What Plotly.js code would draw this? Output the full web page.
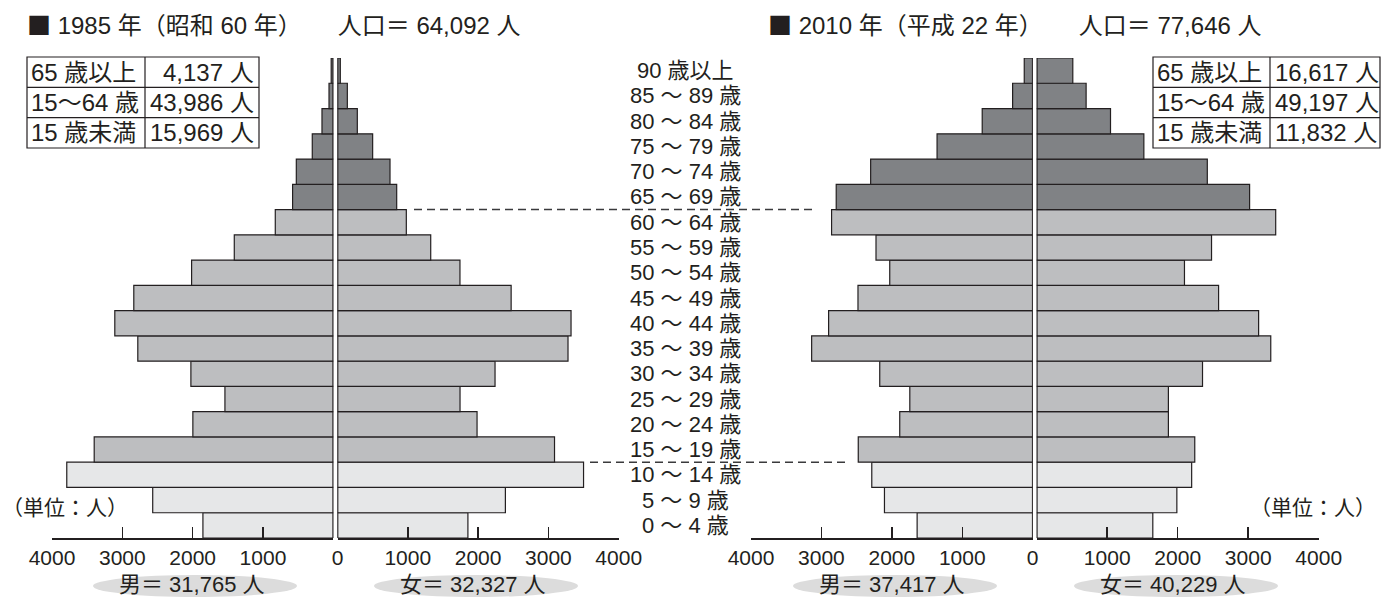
<!DOCTYPE html>
<html><head><meta charset="utf-8">
<script src="https://cdn.plot.ly/plotly-3.0.1.min.js"></script>
<style>html,body{margin:0;padding:0;background:#fff}#chart{width:1382px;height:598px}</style>
</head><body><div id="chart"></div>
<script>
// ---- data ----
const ageGroups = ["0 ～ 4 歳","5 ～ 9 歳","10 ～ 14 歳","15 ～ 19 歳","20 ～ 24 歳","25 ～ 29 歳","30 ～ 34 歳","35 ～ 39 歳","40 ～ 44 歳","45 ～ 49 歳","50 ～ 54 歳","55 ～ 59 歳","60 ～ 64 歳","65 ～ 69 歳","70 ～ 74 歳","75 ～ 79 歳","80 ～ 84 歳","85 ～ 89 歳","90 歳以上"];
const ageBand = ["young","young","young","work","work","work","work","work","work","work","work","work","work","old","old","old","old","old","old"];
const male1985   = [1854,2568,3790,3400,1997,1541,2025,2780,3107,2837,2015,1408,825,579,526,299,161,61,30];
const female1985 = [1855,2388,3500,3087,1985,1743,2241,3279,3322,2470,1742,1326,979,842,747,500,282,140,40];
const male2010   = [1641,2105,2285,2477,1888,1745,2172,3139,2898,2481,2030,2225,2856,2790,2301,1358,717,285,120];
const female2010 = [1647,1988,2198,2242,1868,1868,2352,3320,3148,2580,2096,2480,3390,3020,2420,1520,1047,701,512];
const tickValues = [0,1000,2000,3000,4000];
const tickLabelsWithZero = ["0","1000","2000","3000","4000"];
const tickLabelsNoZero = ["","1000","2000","3000","4000"];
const summaryLabels = ["65 歳以上","15～64 歳","15 歳未満"];
const summary1985 = ["4,137 人","43,986 人","15,969 人"];
const summary2010 = ["16,617 人","49,197 人","11,832 人"];
const titles = ["1985 年（昭和 60 年）　　人口＝ 64,092 人","2010 年（平成 22 年）　　人口＝ 77,646 人"];
const sexTotals = ["男＝ 31,765 人","女＝ 32,327 人","男＝ 37,417 人","女＝ 40,229 人"];
const unitLabel = "（単位：人）";

// ---- style ----
const W = 1382, H = 598;
const px = v => v / W, py = v => 1 - v / H;
const INK = '#231f20';
const FONT = 'Liberation Sans, Arial, Noto Sans CJK JP, sans-serif';
const CJK = 'Noto Sans CJK JP';
const bandColor = {young:'#e6e7e8', work:'#bdbec0', old:'#808285'};
const colors = ageBand.map(b => bandColor[b]);

function barTrace(vals, xa){
  return {type:'bar', orientation:'h', x:vals, y:ageGroups, xaxis:xa, yaxis:'y',
    width:1, marker:{color:colors, line:{color:INK, width:1.2}}, hoverinfo:'x+y', showlegend:false};
}
const data = [barTrace(male1985,'x'), barTrace(female1985,'x2'), barTrace(male2010,'x3'), barTrace(female2010,'x4')];

function xax(dom, rev, labels){
  return {domain:[px(dom[0]), px(dom[1])], range: rev ? [4000,0] : [0,4000], anchor:'y',
    tickmode:'array', tickvals:tickValues, ticktext:labels, ticks:'inside', ticklen:11, tickwidth:1.5,
    tickcolor:INK, showline:true, linecolor:INK, linewidth:1.5, showgrid:false, zeroline:false,
    tickfont:{size:21, color:INK, family:FONT}, fixedrange:true};
}

const shapes = [];
const annotations = [];
// center lines
['x','x2','x3','x4'].forEach(a => shapes.push({type:'line', xref:a, yref:'y', x0:0, x1:0, y0:-0.5, y1:18.5, line:{color:INK, width:1.6}}));
// dashed boundaries
shapes.push({type:'line', xref:'paper', yref:'y', x0:px(414), x1:px(817), y0:12.5, y1:12.5, line:{color:'#3a3a3c', width:1.5, dash:'8px,5px'}});
shapes.push({type:'line', xref:'paper', yref:'y', x0:px(590), x1:px(845), y0:2.5, y1:2.5, line:{color:'#3a3a3c', width:1.5, dash:'8px,5px'}});

// tables
function table(x0, xm, x1, y0, y1, vals, valAlignRight){
  const rh = (y1 - y0) / 3;
  shapes.push({type:'rect', xref:'paper', yref:'paper', x0:px(x0), x1:px(x1), y0:py(y0), y1:py(y1), line:{color:INK, width:1.2}});
  shapes.push({type:'line', xref:'paper', yref:'paper', x0:px(xm), x1:px(xm), y0:py(y0), y1:py(y1), line:{color:INK, width:1.2}});
  for (let i=1;i<3;i++) shapes.push({type:'line', xref:'paper', yref:'paper', x0:px(x0), x1:px(x1), y0:py(y0+rh*i), y1:py(y0+rh*i), line:{color:INK, width:1.2}});
  for (let i=0;i<3;i++){
    const yc = py(y0 + rh*(i+0.5));
    annotations.push({xref:'paper', yref:'paper', x:px(x0+2), y:yc, xanchor:'left', yanchor:'middle', text:summaryLabels[i], showarrow:false, font:{size:24, color:INK, family:FONT}});
    annotations.push({xref:'paper', yref:'paper', x: valAlignRight ? px(x1-3) : px(xm+3), y:yc, xanchor: valAlignRight ? 'right':'left', yanchor:'middle', text:vals[i], showarrow:false, font:{size:24, color:INK, family:FONT}});
  }
}
table(27, 145, 259, 57, 148, summary1985, true);
table(1153, 1270, 1380, 57, 148, summary2010, false);

// titles
const sq = "<span style='font-family:" + CJK + "'>■</span> ";
annotations.push({xref:'paper', yref:'paper', x:px(25), y:py(24), xanchor:'left', yanchor:'middle', text:sq + titles[0], showarrow:false, font:{size:24, color:INK, family:FONT}});
annotations.push({xref:'paper', yref:'paper', x:px(766), y:py(24), xanchor:'left', yanchor:'middle', text:sq + titles[1], showarrow:false, font:{size:24, color:INK, family:FONT}});

// age labels
ageGroups.forEach(g => annotations.push({xref:'paper', yref:'y', x:px(685), y:g, xanchor:'center', yanchor:'middle', text:g, showarrow:false, font:{size:22, color:INK, family:FONT}}));

// unit labels
annotations.push({xref:'paper', yref:'paper', x:px(0), y:py(507), xanchor:'left', yanchor:'middle', text:unitLabel, showarrow:false, font:{size:21, color:INK, family:FONT}});
annotations.push({xref:'paper', yref:'paper', x:px(1378), y:py(507), xanchor:'right', yanchor:'middle', text:unitLabel, showarrow:false, font:{size:21, color:INK, family:FONT}});

// sex totals with ellipses
const centers = [195, 476, 895, 1176];
centers.forEach((c,i) => {
  shapes.push({type:'circle', xref:'paper', yref:'paper', layer:'below', x0:px(c-102), x1:px(c+102), y0:py(575), y1:py(597), fillcolor:'#dcdcdc', line:{width:0}});
  annotations.push({xref:'paper', yref:'paper', x:px(c-3), y:py(584), xanchor:'center', yanchor:'middle', text:sexTotals[i], showarrow:false, font:{size:22, color:INK, family:FONT}});
});

const layout = {
  width:W, height:H, margin:{l:0,r:0,t:0,b:0}, paper_bgcolor:'#fff', plot_bgcolor:'rgba(0,0,0,0)',
  barmode:'overlay', showlegend:false, font:{family:FONT, color:INK},
  xaxis: xax([52,333.3], true, tickLabelsNoZero), xaxis2: xax([337.5,618.7], false, tickLabelsWithZero),
  xaxis3: xax([751,1032.7], true, tickLabelsWithZero), xaxis4: xax([1036.7,1318.7], false, tickLabelsNoZero),
  yaxis: {domain:[py(538), py(58)], range:[-0.5,18.5], visible:false, type:'category', categoryorder:'array', categoryarray:ageGroups, fixedrange:true},
  shapes: shapes, annotations: annotations
};
Plotly.newPlot('chart', data, layout, {displayModeBar:false, staticPlot:true});
</script></body></html>
